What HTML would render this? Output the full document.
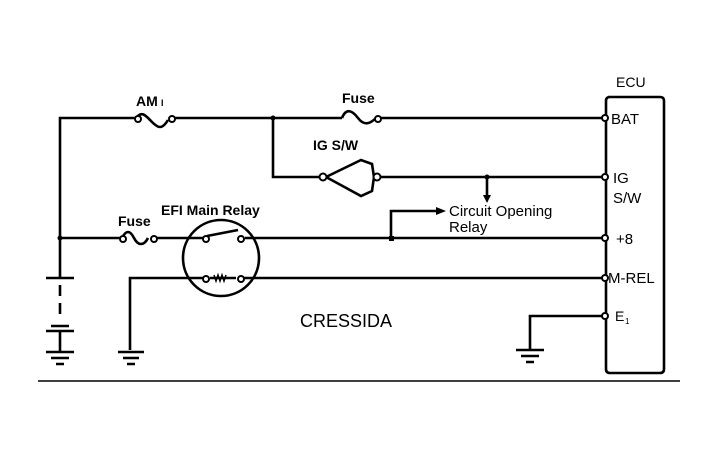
<!DOCTYPE html>
<html><head><style>body{margin:0;background:#fff}svg{display:block}</style></head><body>
<svg width="724" height="458" viewBox="0 0 724 458" xmlns="http://www.w3.org/2000/svg" font-family="Liberation Sans, sans-serif">
<g stroke="#000" stroke-width="2.6" fill="none">
<path d="M60 238 V118 H136 M172 118 H342 M378 118 H604"/>
<path d="M136 118 c6 -8 10 -2 16 4 c6 6 10 8 16 -2" />
<path d="M342 118 c4 -10 10 -8 16 0 c6 8 12 6 18 0"/>
<path d="M273 118 V177 H320"/>
<path d="M326 177 L361 160 L372 164 L374 177 L372 191 L361 196 Z"/>
<path d="M380 177 H604"/>
<path d="M487 177 V197"/>
<path d="M60 238 H120 M156 238 H204 M245 238 H604"/>
<path d="M122 238 c4 -8 8 -8 12 0 c4 8 10 8 14 0"/>
<path d="M207 236 L238 230"/>
<path d="M391 238 V211 H436"/>
<circle cx="221" cy="258" r="38"/>
<path d="M130 350 V278 H204 M241 278 H604"/>
<path d="M210 278 h26"/>
<path d="M60 238 V278 M46 278 H74 M60 285 V296 M60 303 V314 M51 326 H69 M46 331 H74 M60 331 V352"/>
<path d="M46 352 H74 M51 358 H69 M56 364 H64"/>
<path d="M118 352 H144 M123 358 H139 M127 364 H135"/>
<path d="M604 316 H530 V350 M516 350 H544 M521 356 H539 M526 362 H534"/>
<path d="M608 97 H660 Q664 97 664 101 V369 Q664 373 660 373 H610 Q606 373 606 369 V101 Q606 97 610 97 Z"/>
<path d="M38 381 H680" stroke-width="1.5"/>
</g>
<g fill="#fff" stroke="#000" stroke-width="2">
<circle cx="138" cy="119" r="3"/><circle cx="172" cy="119" r="3"/>
<circle cx="378" cy="119" r="3"/>
<circle cx="323" cy="177" r="3.5"/><circle cx="377" cy="177" r="3.5"/>
<circle cx="123" cy="239" r="3"/><circle cx="154" cy="239" r="3"/>
<circle cx="206" cy="239" r="3"/><circle cx="241" cy="239" r="3"/>
<circle cx="206" cy="279" r="3"/><circle cx="241" cy="279" r="3"/>
<circle cx="605" cy="118" r="3"/><circle cx="605" cy="177" r="3"/><circle cx="605" cy="238" r="3"/><circle cx="605" cy="278" r="3"/><circle cx="605" cy="316" r="3"/>
</g>
<g fill="#000">
<circle cx="273" cy="118" r="2.5"/><circle cx="487" cy="177" r="2.5"/><circle cx="60" cy="238" r="2.5"/><rect x="389" y="236" width="5" height="5"/>
<path d="M436 207 L446 211 L436 215 Z"/><path d="M483 195 L487 203 L491 195 Z"/>
<path d="M214 275 l2 6 l2 -6 l2 6 l2 -6 l2 6 l2 -6" stroke="#000" stroke-width="1.5" fill="none"/>
</g>
<g font-size="14" fill="#000">
<text x="136" y="106" font-weight="bold">AM</text><text x="161" y="106" font-size="9" font-weight="bold">I</text>
<text x="342" y="103" font-weight="bold">Fuse</text>
<text x="313" y="150" font-weight="bold">IG S/W</text>
<text x="118" y="226" font-weight="bold">Fuse</text>
<text x="161" y="215" font-weight="bold">EFI Main Relay</text>
<text x="449" y="216" font-size="15">Circuit Opening</text>
<text x="449" y="232" font-size="15">Relay</text>
<text x="300" y="327" font-size="18">CRESSIDA</text>
<text x="616" y="87">ECU</text>
<text x="611" y="124" font-size="15">BAT</text>
<text x="613" y="183" font-size="15">IG</text>
<text x="613" y="203" font-size="15">S/W</text>
<text x="616" y="244" font-size="15">+8</text>
<text x="608" y="283" font-size="15">M-REL</text>
<text x="615" y="321" font-size="14">E</text><text x="625" y="324" font-size="8">1</text>
</g>
</svg>
</body></html>
